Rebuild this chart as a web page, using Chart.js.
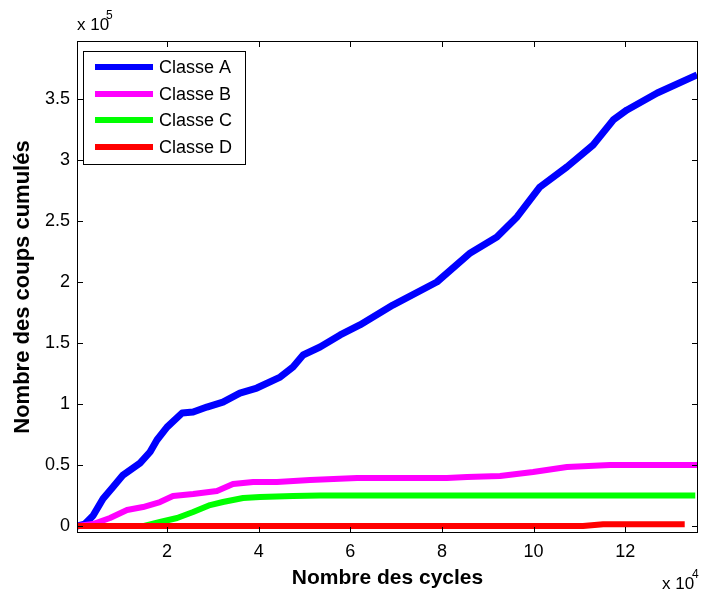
<!DOCTYPE html>
<html>
<head>
<meta charset="utf-8">
<script src="https://cdn.jsdelivr.net/npm/chart.js@4.4.1/dist/chart.umd.min.js"></script>
<style>
html, body { margin: 0; padding: 0; background: #fff; }
</style>
</head>
<body>
<canvas id="chart" width="701" height="595"></canvas>
<script>
// values (x: cycles, y: cumulated hits)
const seriesNames = ["Classe A", "Classe B", "Classe C", "Classe D"];
const seriesColours = ["#0000ff", "#ff00ff", "#00ff00", "#ff0000"];

const cyclesA = [350, 2000, 3840, 6030, 8210, 10390, 14100, 16290, 17800, 20000, 23300, 25700, 28700, 32200, 35900, 39600, 44700, 47500, 49700, 53400, 57800, 62100, 69300, 78900, 86200, 92000, 96400, 101400, 107300, 113000, 117400, 120400, 127000, 135700];
const coupsA  = [0, 1500, 8400, 22300, 32000, 41800, 51600, 60700, 70500, 81100, 92600, 93400, 97500, 101600, 109000, 113100, 122100, 130300, 140200, 146700, 156600, 164800, 181100, 200000, 223800, 236900, 253300, 277900, 294300, 312300, 332800, 341000, 354900, 369700];

const cyclesB = [350, 3840, 7550, 11270, 14760, 18470, 21300, 25700, 30900, 34400, 38800, 44000, 51200, 61500, 81100, 85500, 92700, 99900, 107300, 116700, 135700];
const coupsB  = [0, 1600, 6600, 13100, 15600, 19700, 24600, 26200, 28700, 34400, 36100, 36100, 37700, 39300, 39300, 40200, 41000, 44300, 48400, 50000, 50000];

const cyclesC = [350, 14760, 18470, 22200, 25700, 29400, 32200, 36600, 40300, 47500, 53400, 135300];
const coupsC  = [0, 0, 3300, 6600, 11500, 17200, 19700, 23000, 23800, 24600, 25000, 25000];

const cyclesD = [350, 110800, 115200, 133000];
const coupsD  = [0, 0, 1500, 1500];

const xTicks = [20000, 40000, 60000, 80000, 100000, 120000];
const yTicks = [0, 50000, 100000, 150000, 200000, 250000, 300000, 350000];

const xLabel = "Nombre des cycles";
const yLabel = "Nombre des coups cumulés";

function toPoints(xs, ys) {
    return xs.map(function (x, i) { return { x: x, y: ys[i] }; });
}

const allX = [cyclesA, cyclesB, cyclesC, cyclesD];
const allY = [coupsA, coupsB, coupsC, coupsD];

var datasets = [];
for (let i = 0; i < seriesNames.length; i++) {
    datasets.push({
        label: seriesNames[i],
        data: toPoints(allX[i], allY[i]),
        borderColor: seriesColours[i],
        backgroundColor: seriesColours[i],
        borderWidth: i == 0 ? 7 : 6,
        borderJoinStyle: 'round',
        pointRadius: 0,
        showLine: true,
        tension: 0,
        order: seriesNames.length - i
    });
}

const fontFamily = "'Liberation Sans', Arial, Helvetica, sans-serif";

// box, inward ticks on all four sides, exponent labels, legend in the corner
const matlabFrame = {
    id: 'matlabFrame',
    afterDatasetsDraw(chart) {
        const ctx = chart.ctx;
        const a = chart.chartArea;
        const sx = chart.scales.x, sy = chart.scales.y;
        ctx.save();
        ctx.strokeStyle = '#000';
        ctx.lineWidth = 1;
        ctx.strokeRect(a.left + 0.5, a.top + 0.5, a.right - a.left - 1, a.bottom - a.top - 1);
        ctx.beginPath();
        xTicks.forEach(function (v) {
            const px = Math.round(sx.getPixelForValue(v)) + 0.5;
            ctx.moveTo(px, a.bottom); ctx.lineTo(px, a.bottom - 6);
            ctx.moveTo(px, a.top); ctx.lineTo(px, a.top + 6);
        });
        yTicks.forEach(function (v) {
            const py = Math.round(sy.getPixelForValue(v)) + 0.5;
            ctx.moveTo(a.left, py); ctx.lineTo(a.left + 6, py);
            ctx.moveTo(a.right, py); ctx.lineTo(a.right - 6, py);
        });
        ctx.stroke();

        // exponent labels
        ctx.fillStyle = '#000';
        ctx.textBaseline = 'alphabetic';
        ctx.textAlign = 'left';
        ctx.font = '17px ' + fontFamily;
        ctx.fillText('x 10', 77, 30);
        ctx.fillText('x 10', 662, 589);
        ctx.font = '12px ' + fontFamily;
        ctx.fillText('5', 106, 19);
        ctx.fillText('4', 692, 578);

        // legend
        const lx = 83, ly = 51, lw = 162, lh = 113;
        ctx.fillStyle = '#fff';
        ctx.fillRect(lx, ly, lw, lh);
        ctx.strokeRect(lx + 0.5, ly + 0.5, lw, lh);
        const rows = [67, 94, 120, 147];
        ctx.font = '18px ' + fontFamily;
        ctx.textBaseline = 'middle';
        chart.data.datasets.forEach(function (ds, i) {
            ctx.strokeStyle = ds.borderColor;
            ctx.lineWidth = 6;
            ctx.beginPath();
            ctx.moveTo(95, rows[i]);
            ctx.lineTo(153, rows[i]);
            ctx.stroke();
            ctx.fillStyle = '#000';
            ctx.fillText(ds.label, 159, rows[i] + 1);
        });
        ctx.restore();
    }
};

const ctx = document.getElementById('chart').getContext('2d');
var chartId = new Chart(ctx, {
    type: 'scatter',
    data: { datasets: datasets },
    options: {
        responsive: false,
        animation: false,
        layout: { padding: { top: 41, right: 3, left: 0, bottom: 0 } },
        scales: {
            x: {
                type: 'linear',
                min: 350,
                max: 135900,
                grid: { display: false, drawTicks: false },
                border: { display: false },
                afterBuildTicks: function (scale) {
                    scale.ticks = xTicks.map(function (v) { return { value: v }; });
                },
                afterFit: function (scale) { scale.height = 62; },
                ticks: {
                    color: '#000',
                    padding: 8,
                    maxRotation: 0,
                    font: { family: fontFamily, size: 18 },
                    callback: function (v) { return String(v / 10000); }
                },
                title: {
                    display: true,
                    text: xLabel,
                    color: '#000',
                    padding: { top: 0, bottom: 4 },
                    font: { family: fontFamily, size: 21, weight: 'bold' }
                }
            },
            y: {
                type: 'linear',
                min: -5700,
                max: 397500,
                grid: { display: false, drawTicks: false },
                border: { display: false },
                afterBuildTicks: function (scale) {
                    scale.ticks = yTicks.map(function (v) { return { value: v }; });
                },
                afterFit: function (scale) { scale.width = 77; },
                ticks: {
                    color: '#000',
                    padding: 7,
                    font: { family: fontFamily, size: 18 },
                    callback: function (v) { return String(v / 100000); }
                },
                title: {
                    display: true,
                    text: yLabel,
                    color: '#000',
                    padding: { top: 10, bottom: 0 },
                    font: { family: fontFamily, size: 22, weight: 'bold' }
                }
            }
        },
        plugins: {
            legend: { display: false },
            tooltip: { enabled: false }
        }
    },
    plugins: [matlabFrame]
});
</script>
</body>
</html>
